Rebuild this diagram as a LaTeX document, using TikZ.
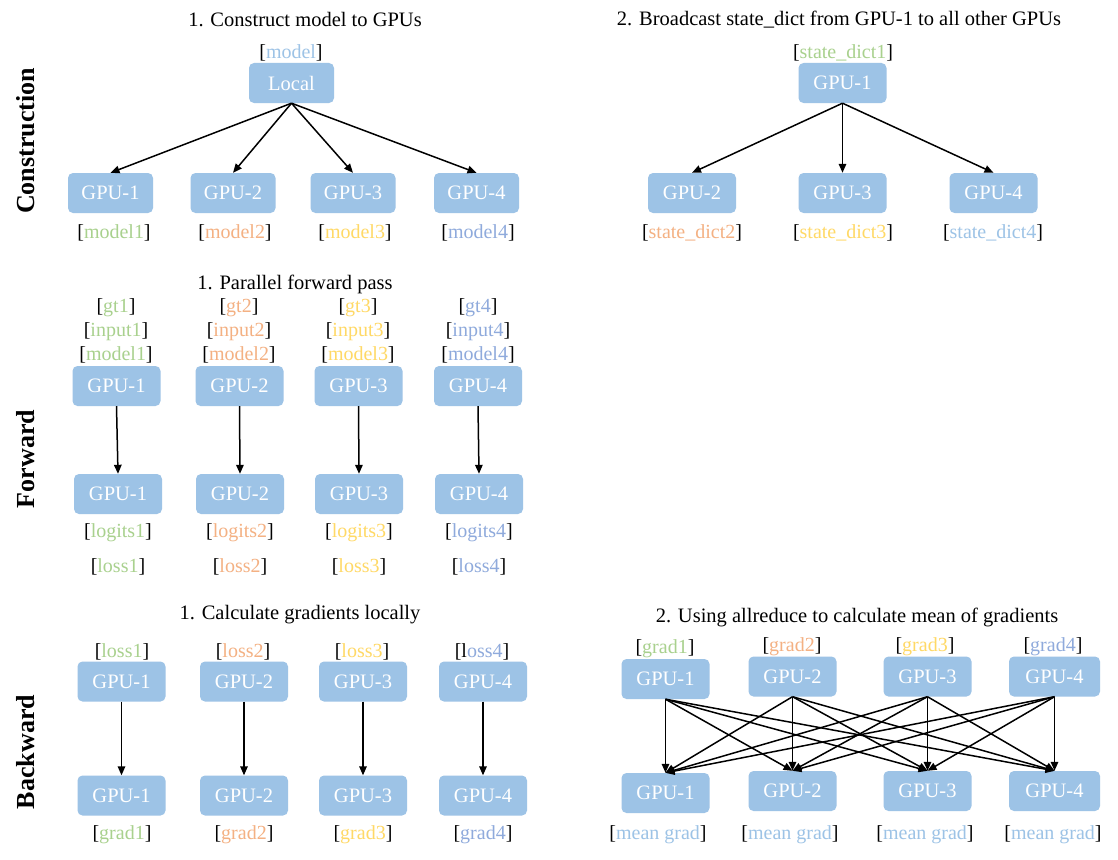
\documentclass[tikz,border=0pt]{standalone}
\usepackage{fontspec}
\setmainfont{Liberation Serif}
\usetikzlibrary{arrows.meta}
\definecolor{boxblue}{HTML}{9DC3E6}
\definecolor{cgreen}{HTML}{A9D18E}
\definecolor{corange}{HTML}{F4B183}
\definecolor{cyellow}{HTML}{FFD966}
\definecolor{cpurple}{HTML}{8FAADC}
\definecolor{clblue}{HTML}{9DC3E6}
\newcommand\fsz[1]{\fontsize{#1}{#1}\selectfont}
\newcommand\lbl[2]{[\textcolor{#1}{#2}]}
\tikzset{
  gpu/.style={fill=boxblue, rounded corners=5pt, minimum width=88pt, minimum height=40pt, inner sep=0pt, text=white, font=\fsz{20.5}},
  lab/.style={inner sep=0pt, font=\fsz{20}},
  ttl/.style={inner sep=0pt, font=\fsz{20.5}},
  side/.style={inner sep=0pt, rotate=90, font=\fsz{26}\bfseries},
  arr/.style={-{Triangle[length=9pt,width=7.5pt]}, line width=1.5pt},
}
\begin{document}
\begin{tikzpicture}[x=1pt,y=-1pt]
\fill[white] (0,0) rectangle (1118,859);
\useasboundingbox (0,0) rectangle (1118,859);
% side labels
\node[side] (sc) at (26,141) {Construction};
\node[side] (sf) at (26,459) {Forward};
\node[side] (sb) at (26,752) {Backward};
% ---------- Construction 1 ----------
\node[ttl] (t1) at (305,20) {1. Construct model to GPUs};
\node[lab] (cl0) at (291,53) {\lbl{clblue}{model}};
\node[gpu, minimum width=85pt] (c0) at (291.5,83) {Local};
\node[gpu, minimum width=85pt] (c1) at (110.5,193) {GPU-1};
\node[gpu, minimum width=85pt] (c2) at (233,193) {GPU-2};
\node[gpu, minimum width=85pt] (c3) at (353,193) {GPU-3};
\node[gpu, minimum width=85pt] (c4) at (476.5,193) {GPU-4};
\node[lab] (cl1) at (114,233) {\lbl{cgreen}{model1}};
\node[lab] (cl2) at (235,233) {\lbl{corange}{model2}};
\node[lab] (cl3) at (355,233) {\lbl{cyellow}{model3}};
\node[lab] (cl4) at (478,233) {\lbl{cpurple}{model4}};
\foreach \i in {1,2,3,4} \draw[arr] (c0.south) -- (c\i.north);
% ---------- Construction 2 ----------
\node[ttl] (t2) at (839,20) {2. Broadcast state\_dict from GPU-1 to all other GPUs};
\node[lab] (sl1) at (843,53) {\lbl{cgreen}{state\_dict1}};
\node[gpu] (s1) at (842.5,83) {GPU-1};
\node[gpu] (s2) at (692,193) {GPU-2};
\node[gpu] (s3) at (842.5,193) {GPU-3};
\node[gpu] (s4) at (993.5,193) {GPU-4};
\node[lab] (sl2) at (692,233) {\lbl{corange}{state\_dict2}};
\node[lab] (sl3) at (843,233) {\lbl{cyellow}{state\_dict3}};
\node[lab] (sl4) at (993,233) {\lbl{clblue}{state\_dict4}};
\foreach \i in {2,3,4} \draw[arr] (s1.south) -- (s\i.north);
% ---------- Forward ----------
\node[ttl] (t3) at (295,284) {1. Parallel forward pass};
\node[lab] (fa1) at (116,308) {\lbl{cgreen}{gt1}};
\node[lab] (fb1) at (116,332) {\lbl{cgreen}{input1}};
\node[lab] (fc1) at (116,355) {\lbl{cgreen}{model1}};
\node[lab] (fa2) at (239,308) {\lbl{corange}{gt2}};
\node[lab] (fb2) at (239,332) {\lbl{corange}{input2}};
\node[lab] (fc2) at (239,355) {\lbl{corange}{model2}};
\node[lab] (fa3) at (358,308) {\lbl{cyellow}{gt3}};
\node[lab] (fb3) at (358,332) {\lbl{cyellow}{input3}};
\node[lab] (fc3) at (358,355) {\lbl{cyellow}{model3}};
\node[lab] (fa4) at (478,308) {\lbl{cpurple}{gt4}};
\node[lab] (fb4) at (478,332) {\lbl{cpurple}{input4}};
\node[lab] (fc4) at (478,355) {\lbl{cpurple}{model4}};
\node[gpu] (f1) at (116.5,386) {GPU-1};
\node[gpu] (f2) at (239.5,386) {GPU-2};
\node[gpu] (f3) at (358.5,386) {GPU-3};
\node[gpu] (f4) at (478,386) {GPU-4};
\node[gpu] (h1) at (118,494) {GPU-1};
\node[gpu] (h2) at (240,494) {GPU-2};
\node[gpu] (h3) at (359,494) {GPU-3};
\node[gpu] (h4) at (479,494) {GPU-4};
\foreach \i in {1,2,3,4} \draw[arr] (f\i.south) -- (h\i.north);
\node[lab] (ha1) at (118,533) {\lbl{cgreen}{logits1}};
\node[lab] (hb1) at (118,567) {\lbl{cgreen}{loss1}};
\node[lab] (ha2) at (240,533) {\lbl{corange}{logits2}};
\node[lab] (hb2) at (240,567) {\lbl{corange}{loss2}};
\node[lab] (ha3) at (359,533) {\lbl{cyellow}{logits3}};
\node[lab] (hb3) at (359,567) {\lbl{cyellow}{loss3}};
\node[lab] (ha4) at (479,533) {\lbl{cpurple}{logits4}};
\node[lab] (hb4) at (479,567) {\lbl{cpurple}{loss4}};
% ---------- Backward 1 ----------
\node[ttl] (t4) at (300,615) {1. Calculate gradients locally};
\node[lab] (bl1) at (122,652) {\lbl{cgreen}{loss1}};
\node[lab] (bl2) at (243,652) {\lbl{corange}{loss2}};
\node[lab] (bl3) at (362,652) {\lbl{cyellow}{loss3}};
\node[lab] (bl4) at (482,652) {[l\textcolor{cpurple}{oss4}]};
\node[gpu] (b1) at (121.5,681.5) {GPU-1};
\node[gpu] (b2) at (244,681.5) {GPU-2};
\node[gpu] (b3) at (363,681.5) {GPU-3};
\node[gpu] (b4) at (483,681.5) {GPU-4};
\node[gpu] (d1) at (121.5,795.5) {GPU-1};
\node[gpu] (d2) at (244,795.5) {GPU-2};
\node[gpu] (d3) at (363,795.5) {GPU-3};
\node[gpu] (d4) at (483,795.5) {GPU-4};
\foreach \i in {1,2,3,4} \draw[arr] (b\i.south) -- (d\i.north);
\node[lab] (dl1) at (122,835) {\lbl{cgreen}{grad1}};
\node[lab] (dl2) at (244,835) {\lbl{corange}{grad2}};
\node[lab] (dl3) at (363,835) {\lbl{cyellow}{grad3}};
\node[lab] (dl4) at (483,835) {\lbl{cpurple}{grad4}};
% ---------- Backward 2 ----------
\node[ttl] (t5) at (857,617) {2. Using allreduce to calculate mean of gradients};
\node[lab] (al1) at (665,649) {\lbl{cgreen}{grad1}};
\node[lab] (al2) at (792,647) {\lbl{corange}{grad2}};
\node[lab] (al3) at (925,647) {\lbl{cyellow}{grad3}};
\node[lab] (al4) at (1053,647) {\lbl{cpurple}{grad4}};
\node[gpu] (a1) at (665.5,679) {GPU-1};
\node[gpu] (a2) at (792.5,676.5) {GPU-2};
\node[gpu] (a3) at (927.5,676.5) {GPU-3};
\node[gpu, minimum width=91pt] (a4) at (1054.5,676.5) {GPU-4};
\node[gpu] (e1) at (665.5,793) {GPU-1};
\node[gpu] (e2) at (792.5,791) {GPU-2};
\node[gpu] (e3) at (927.5,791) {GPU-3};
\node[gpu, minimum width=91pt] (e4) at (1054.5,791) {GPU-4};
\foreach \i in {1,2,3,4} \foreach \j in {1,2,3,4} \draw[arr] (a\i.south) -- (e\j.north);
\node[lab] (el1) at (658,835) {\lbl{clblue}{mean grad}};
\node[lab] (el2) at (790,835) {\lbl{clblue}{mean grad}};
\node[lab] (el3) at (925,835) {\lbl{clblue}{mean grad}};
\node[lab] (el4) at (1053,835) {\lbl{clblue}{mean grad}};
\end{tikzpicture}
\end{document}
